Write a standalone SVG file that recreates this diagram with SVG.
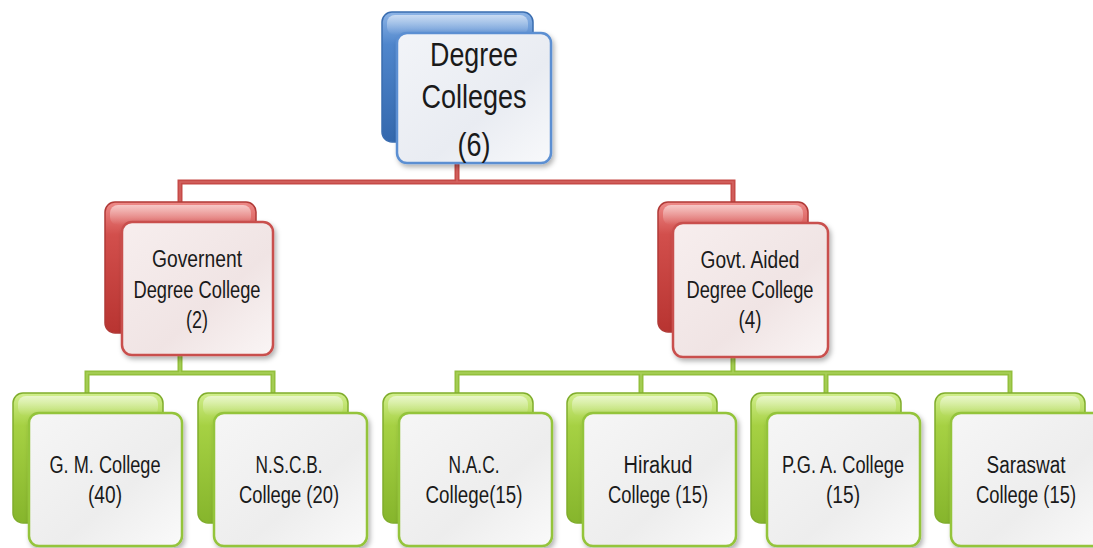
<svg xmlns="http://www.w3.org/2000/svg" width="1093" height="548" viewBox="0 0 1093 548">
<defs>
<linearGradient id="gBlue" x1="0" y1="0" x2="0" y2="1"><stop offset="0" stop-color="#8db4e6"/><stop offset="0.25" stop-color="#4f86cc"/><stop offset="1" stop-color="#3468ad"/></linearGradient>
<linearGradient id="gRed" x1="0" y1="0" x2="0" y2="1"><stop offset="0" stop-color="#ee8a88"/><stop offset="0.25" stop-color="#d24f4c"/><stop offset="1" stop-color="#b83431"/></linearGradient>
<linearGradient id="gGreen" x1="0" y1="0" x2="0" y2="1"><stop offset="0" stop-color="#d2ef8e"/><stop offset="0.25" stop-color="#a6d143"/><stop offset="1" stop-color="#86b52c"/></linearGradient>
<linearGradient id="gFront" x1="0" y1="0" x2="1" y2="1"><stop offset="0" stop-color="#f6f6f6"/><stop offset="0.6" stop-color="#ededed"/><stop offset="1" stop-color="#fafafa"/></linearGradient>
<linearGradient id="gFrontBlue" x1="0" y1="0" x2="1" y2="1"><stop offset="0" stop-color="#f2f4f8"/><stop offset="0.6" stop-color="#e9ecf2"/><stop offset="1" stop-color="#f8f9fb"/></linearGradient>
<linearGradient id="gFrontRed" x1="0" y1="0" x2="1" y2="1"><stop offset="0" stop-color="#f7eeee"/><stop offset="0.6" stop-color="#f0e4e4"/><stop offset="1" stop-color="#faf5f5"/></linearGradient>
<linearGradient id="gShine" x1="0" y1="0" x2="0" y2="1"><stop offset="0" stop-color="#ffffff" stop-opacity="0.55"/><stop offset="1" stop-color="#ffffff" stop-opacity="0"/></linearGradient>
<filter id="sh" x="-10%" y="-10%" width="130%" height="130%"><feDropShadow dx="2" dy="3" stdDeviation="2.5" flood-color="#000" flood-opacity="0.3"/></filter>
</defs>
<style>
.t{font-family:"Liberation Sans",Arial,sans-serif;fill:#1a1a1a;text-anchor:middle}
.tb{font-size:34px}
.tm{font-size:23px}
.bb{fill:url(#gBlue);stroke:#3a6db0;stroke-width:1.5}
.br{fill:url(#gRed);stroke:#b03a37;stroke-width:1.5}
.bg{fill:url(#gGreen);stroke:#80ad2c;stroke-width:1.5}
.sh{fill:url(#gShine)}
.fb{fill:url(#gFrontBlue);stroke:#5b8fd2;stroke-width:2.5;filter:url(#sh)}
.fr{fill:url(#gFrontRed);stroke:#c9504d;stroke-width:2.5;filter:url(#sh)}
.fg{fill:url(#gFront);stroke:#94c43a;stroke-width:2.5;filter:url(#sh)}
.cr{fill:none;stroke:#c64a47;stroke-width:5}
.cri{fill:none;stroke:#d46461;stroke-width:1.5}
.cg{fill:none;stroke:#93c03c;stroke-width:5}
.cgi{fill:none;stroke:#a9d05a;stroke-width:1.5}
</style>
<g id="connectors">
<path class="cr" d="M457,150 V182 H180 V205 M457,182 H733 V205"/>
<path class="cri" d="M457,150 V182 H180 V205 M457,182 H733 V205"/>
<path class="cg" d="M180,340 V373 H87 V396 M180,373 H273 V396 M733,340 V373 H457 V396 M733,373 H1010 V396 M641,373 V396 M826,373 V396"/>
<path class="cgi" d="M180,340 V373 H87 V396 M180,373 H273 V396 M733,340 V373 H457 V396 M733,373 H1010 V396 M641,373 V396 M826,373 V396"/>
</g>
<g id="node-degree-colleges">
<rect class="bb" x="382" y="12" width="151" height="130" rx="10"/>
<rect class="sh" x="387" y="15" width="141" height="20" rx="8"/>
<rect class="fb" x="397" y="33" width="154" height="130" rx="10"/>
<text class="t tb" x="474" y="66" textLength="88" lengthAdjust="spacingAndGlyphs">Degree</text>
<text class="t tb" x="474" y="108" textLength="105" lengthAdjust="spacingAndGlyphs">Colleges</text>
<text class="t tb" x="474" y="156" textLength="33" lengthAdjust="spacingAndGlyphs">(6)</text>
</g>
<g id="node-government">
<rect class="br" x="105" y="202" width="151" height="131" rx="10"/>
<rect class="sh" x="110" y="205" width="141" height="20" rx="8"/>
<rect class="fr" x="122" y="222" width="151" height="133" rx="10"/>
<text class="t tm" x="197" y="267" textLength="90" lengthAdjust="spacingAndGlyphs">Governent</text>
<text class="t tm" x="197" y="298" textLength="127" lengthAdjust="spacingAndGlyphs">Degree College</text>
<text class="t tm" x="197" y="328" textLength="22" lengthAdjust="spacingAndGlyphs">(2)</text>
</g>
<g id="node-govt-aided">
<rect class="br" x="658" y="202" width="150" height="130" rx="10"/>
<rect class="sh" x="663" y="205" width="140" height="20" rx="8"/>
<rect class="fr" x="673" y="223" width="155" height="134" rx="10"/>
<text class="t tm" x="750" y="268" textLength="99" lengthAdjust="spacingAndGlyphs">Govt. Aided</text>
<text class="t tm" x="750" y="298" textLength="127" lengthAdjust="spacingAndGlyphs">Degree College</text>
<text class="t tm" x="750" y="328" textLength="23" lengthAdjust="spacingAndGlyphs">(4)</text>
</g>
<g id="node-gm">
<rect class="bg" x="13" y="393" width="150" height="130" rx="10"/>
<rect class="sh" x="18" y="396" width="140" height="20" rx="8"/>
<rect class="fg" x="29" y="413" width="153" height="133" rx="10"/>
<text class="t tm" x="105" y="473" textLength="111" lengthAdjust="spacingAndGlyphs">G. M. College</text>
<text class="t tm" x="105" y="503" textLength="34" lengthAdjust="spacingAndGlyphs">(40)</text>
</g>
<g id="node-nscb">
<rect class="bg" x="198" y="393" width="150" height="130" rx="10"/>
<rect class="sh" x="203" y="396" width="140" height="20" rx="8"/>
<rect class="fg" x="214" y="413" width="153" height="133" rx="10"/>
<text class="t tm" x="289" y="473" textLength="67" lengthAdjust="spacingAndGlyphs">N.S.C.B.</text>
<text class="t tm" x="289" y="503" textLength="100" lengthAdjust="spacingAndGlyphs">College (20)</text>
</g>
<g id="node-nac">
<rect class="bg" x="383" y="393" width="150" height="130" rx="10"/>
<rect class="sh" x="388" y="396" width="140" height="20" rx="8"/>
<rect class="fg" x="399" y="413" width="153" height="133" rx="10"/>
<text class="t tm" x="474" y="473" textLength="51" lengthAdjust="spacingAndGlyphs">N.A.C.</text>
<text class="t tm" x="474" y="503" textLength="97" lengthAdjust="spacingAndGlyphs">College(15)</text>
</g>
<g id="node-hirakud">
<rect class="bg" x="567" y="393" width="150" height="130" rx="10"/>
<rect class="sh" x="572" y="396" width="140" height="20" rx="8"/>
<rect class="fg" x="583" y="413" width="153" height="133" rx="10"/>
<text class="t tm" x="658" y="473" textLength="69" lengthAdjust="spacingAndGlyphs">Hirakud</text>
<text class="t tm" x="658" y="503" textLength="100" lengthAdjust="spacingAndGlyphs">College (15)</text>
</g>
<g id="node-pga">
<rect class="bg" x="751" y="393" width="150" height="130" rx="10"/>
<rect class="sh" x="756" y="396" width="140" height="20" rx="8"/>
<rect class="fg" x="767" y="413" width="153" height="133" rx="10"/>
<text class="t tm" x="843" y="473" textLength="122" lengthAdjust="spacingAndGlyphs">P.G. A. College</text>
<text class="t tm" x="843" y="503" textLength="34" lengthAdjust="spacingAndGlyphs">(15)</text>
</g>
<g id="node-saraswat">
<rect class="bg" x="935" y="393" width="150" height="130" rx="10"/>
<rect class="sh" x="940" y="396" width="140" height="20" rx="8"/>
<rect class="fg" x="951" y="413" width="153" height="133" rx="10"/>
<text class="t tm" x="1026" y="473" textLength="79" lengthAdjust="spacingAndGlyphs">Saraswat</text>
<text class="t tm" x="1026" y="503" textLength="100" lengthAdjust="spacingAndGlyphs">College (15)</text>
</g>
</svg>
